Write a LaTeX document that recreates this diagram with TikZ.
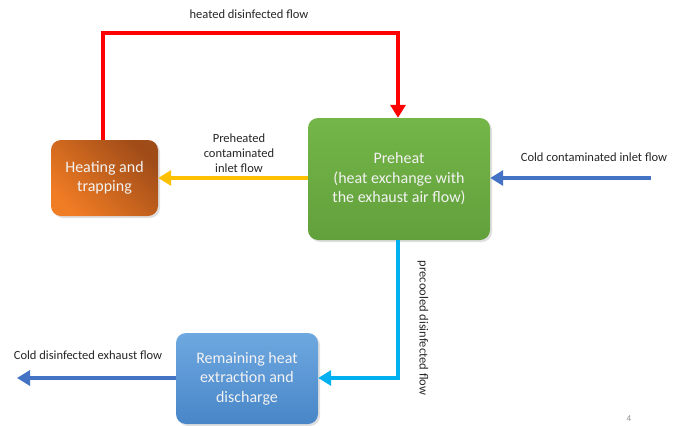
\documentclass[tikz,border=0pt]{standalone}
\usepackage{fontspec}
\setmainfont{Carlito}
\usetikzlibrary{arrows.meta,shadows}
\definecolor{redf}{HTML}{FF0000}
\definecolor{yelf}{HTML}{FFC000}
\definecolor{bluef}{HTML}{4472C4}
\definecolor{cyanf}{HTML}{00B0F0}
\definecolor{boxtext}{HTML}{F2F2F2}
\definecolor{orA}{RGB}{240,124,36}
\definecolor{orB}{RGB}{160,76,24}
\definecolor{grA}{RGB}{116,182,72}
\definecolor{grB}{RGB}{98,160,60}
\definecolor{blA}{RGB}{110,168,224}
\definecolor{blB}{RGB}{72,134,200}
\tikzset{
  box/.style={rounded corners=10pt, text=boxtext, align=center, font=\fontsize{16}{19.5}\selectfont,
    inner sep=2pt, drop shadow={opacity=0.25, shadow xshift=2pt, shadow yshift=-2pt}},
  flow/.style={line width=4.5pt, -{Triangle[length=13pt,width=15pt]}},
  lbl/.style={font=\fontsize{12.5}{15}\selectfont, text=black!85, align=center, inner sep=0pt}
}
\begin{document}
\begin{tikzpicture}[x=1pt,y=-1pt]
\useasboundingbox (0,0) rectangle (681,426);
\node[box, minimum width=107pt, minimum height=76pt,
      top color=orB, bottom color=orA, shading angle=-45]
      (heat) at (104.5,178) {Heating and\\trapping};

\node[box, minimum width=182pt, minimum height=122pt,
      top color=grA, bottom color=grB]
      (pre) at (399,179) {Preheat\\(heat exchange with\\the exhaust air flow)};

\node[box, minimum width=142pt, minimum height=91pt,
      top color=blA, bottom color=blB]
      (rem) at (247,378.5) {Remaining heat\\extraction and\\discharge};

\coordinate (r1) at (103,33);
\coordinate (r2) at (398,33);
\draw[flow, redf, line join=miter] (heat.north -| r1) -- (r1) -- (r2) -- (pre.north -| r2);
\node[lbl] (lred) at (249,14) {heated disinfected flow};

\draw[flow, yelf] (pre.west |- 0,178) -- (heat.east |- 0,178);
\node[lbl] (lyel) at (239,153) {Preheated\\contaminated\\inlet flow};

\coordinate (cin) at (651,178);
\draw[flow, bluef] (cin) -- (pre.east |- cin);
\node[lbl] (lin) at (594,157) {Cold contaminated inlet flow};

\coordinate (c1) at (398,378);
\draw[flow, cyanf, line join=miter] (pre.south -| c1) -- (c1) -- (rem.east |- c1);
\node[lbl, rotate=-90] (lcy) at (423,328) {precooled disinfected flow};

\coordinate (cout) at (17,378);
\draw[flow, bluef] (rem.west |- cout) -- (cout);
\node[lbl] (lout) at (88,355) {Cold disinfected exhaust flow};

\node[font=\fontsize{9}{10}\selectfont, text=black!45] (pg) at (629,419) {4};
\end{tikzpicture}
\end{document}
